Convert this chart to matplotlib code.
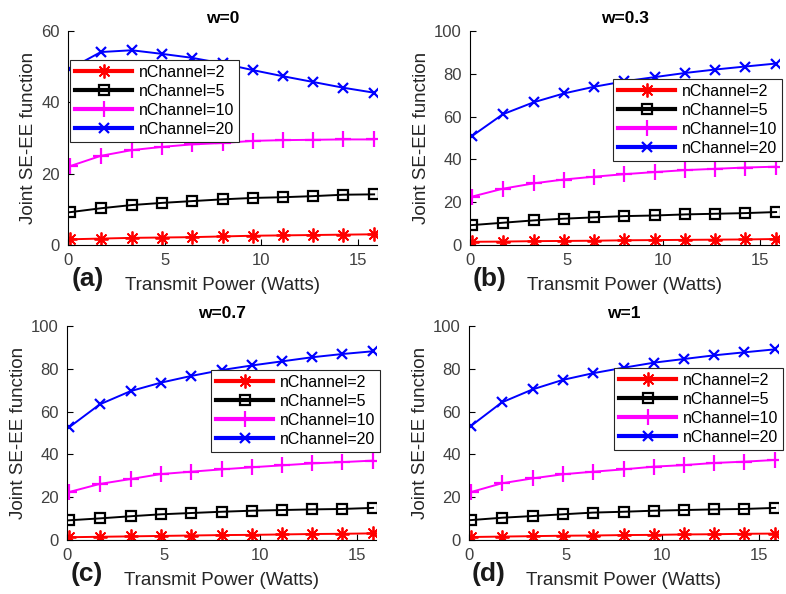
import numpy as np
import matplotlib
matplotlib.use('Agg')
import matplotlib.pyplot as plt

plt.rcParams['font.family'] = ['Liberation Sans', 'DejaVu Sans']

power = [0.1, 1.7, 3.3, 4.85, 6.4, 8.0, 9.6, 11.15, 12.7, 14.25, 15.85]
labels = ['nChannel=2', 'nChannel=5', 'nChannel=10', 'nChannel=20']

# w = 0
a_ch2 = [1.6, 1.8, 2.0, 2.1, 2.2, 2.4, 2.6, 2.7, 2.8, 2.9, 3.0]
a_ch5 = [9.2, 10.3, 11.2, 11.8, 12.3, 12.8, 13.2, 13.4, 13.7, 14.1, 14.2]
a_ch10 = [22.1, 25.0, 26.6, 27.5, 28.2, 28.6, 29.2, 29.4, 29.5, 29.6, 29.6]
a_ch20 = [49.4, 54.1, 54.6, 53.6, 52.5, 50.9, 49.0, 47.3, 45.7, 44.1, 42.7]

# w = 0.3
b_ch2 = [1.5, 1.6, 1.8, 1.9, 2.0, 2.2, 2.3, 2.4, 2.5, 2.6, 2.8]
b_ch5 = [9.3, 10.4, 11.5, 12.3, 12.9, 13.5, 13.8, 14.3, 14.6, 14.9, 15.4]
b_ch10 = [22.6, 26.3, 28.8, 30.6, 31.9, 33.1, 34.1, 35.0, 35.6, 36.2, 36.6]
b_ch20 = [50.9, 61.1, 66.7, 70.8, 73.9, 76.5, 78.5, 80.4, 82.0, 83.4, 84.8]

# w = 0.7
c_ch2 = [1.3, 1.5, 1.7, 1.9, 2.1, 2.3, 2.4, 2.6, 2.8, 2.9, 3.1]
c_ch5 = [9.2, 10.1, 11.1, 12.0, 12.6, 13.2, 13.7, 14.0, 14.3, 14.5, 15.0]
c_ch10 = [22.4, 26.2, 28.5, 30.8, 31.9, 33.0, 34.0, 34.9, 35.8, 36.4, 37.1]
c_ch20 = [52.6, 63.4, 69.6, 73.5, 76.6, 79.4, 81.6, 83.5, 85.4, 86.9, 88.2]

# w = 1
d_ch2 = [1.4, 1.6, 1.8, 2.0, 2.1, 2.3, 2.4, 2.6, 2.7, 2.9, 3.0]
d_ch5 = [9.3, 10.4, 11.2, 12.0, 12.8, 13.2, 13.7, 14.0, 14.3, 14.5, 15.0]
d_ch10 = [22.4, 26.5, 28.8, 30.7, 31.9, 33.0, 34.3, 35.0, 36.0, 36.6, 37.4]
d_ch20 = [53.3, 64.3, 70.4, 74.8, 77.9, 80.5, 82.9, 84.6, 86.3, 87.7, 89.1]

panels = [
    ('w=0', '(a)', [a_ch2, a_ch5, a_ch10, a_ch20], 60, [0, 20, 40, 60]),
    ('w=0.3', '(b)', [b_ch2, b_ch5, b_ch10, b_ch20], 100, [0, 20, 40, 60, 80, 100]),
    ('w=0.7', '(c)', [c_ch2, c_ch5, c_ch10, c_ch20], 100, [0, 20, 40, 60, 80, 100]),
    ('w=1', '(d)', [d_ch2, d_ch5, d_ch10, d_ch20], 100, [0, 20, 40, 60, 80, 100]),
]

W, H = 786, 594
# axes boxes in pixels: left, top, right, bottom
boxes = [(68, 31, 377, 245), (470, 31, 779, 245), (67, 326, 376, 540), (469, 326, 778, 540)]
# legend anchor (pixels) and loc
leg_pos = [((70, 60), 'upper left'), ((782, 79), 'upper right'),
           ((380, 370), 'upper right'), ((783, 368), 'upper right')]

styles = [dict(color='red', marker=(8, 2, 0), ms=10, mew=1.3),
          dict(color='black', marker='s', ms=7, mew=1.6, mfc='none'),
          dict(color='magenta', marker='+', ms=11, mew=1.6),
          dict(color='blue', marker='x', ms=7, mew=1.6)]

tick_col = '#404040'

fig = plt.figure(figsize=(W / 100, H / 100), dpi=100)

for (title, tag, series, ymax, yt), (l, t, r, b), (anc, loc) in zip(panels, boxes, leg_pos):
    ax = fig.add_axes([l / W, 1 - b / H, (r - l) / W, (b - t) / H])
    for vals, lab, st in zip(series, labels, styles):
        ax.plot(power, vals, lw=1.4, label=lab, **st)
    ax.set_xlim(0, 16)
    ax.set_ylim(0, ymax)
    ax.set_xticks([0, 5, 10, 15])
    ax.set_yticks(yt)
    ax.spines['top'].set_visible(False)
    ax.spines['right'].set_visible(False)
    ax.tick_params(direction='in', length=4, labelsize=12, colors=tick_col, pad=6)
    ax.tick_params(axis='both', color='black')
    ax.set_title(title, fontsize=12.5, fontweight='bold', pad=6)
    ax.set_ylabel('Joint SE-EE function', fontsize=13.5, color='#262626', labelpad=3)
    ax.set_xlabel('Transmit Power (Watts)', fontsize=13.5, color='#262626', labelpad=6)
    leg = ax.legend(loc=loc, bbox_to_anchor=(anc[0] / W, 1 - anc[1] / H),
                    bbox_transform=fig.transFigure, borderaxespad=0,
                    fontsize=11.5, handlelength=3.6, labelspacing=0.25,
                    handletextpad=0.4, borderpad=0.3, fancybox=False,
                    framealpha=1, edgecolor='#262626')
    for ln in leg.get_lines():
        ln.set_linewidth(3)
    leg.get_frame().set_linewidth(0.8)
    fig.text((l + 20) / W, 1 - (b + 34) / H, tag, fontsize=19, fontweight='bold',
             ha='center', va='center', color='#1a1a1a')

fig.savefig('out.png', dpi=100)
plt.close()
